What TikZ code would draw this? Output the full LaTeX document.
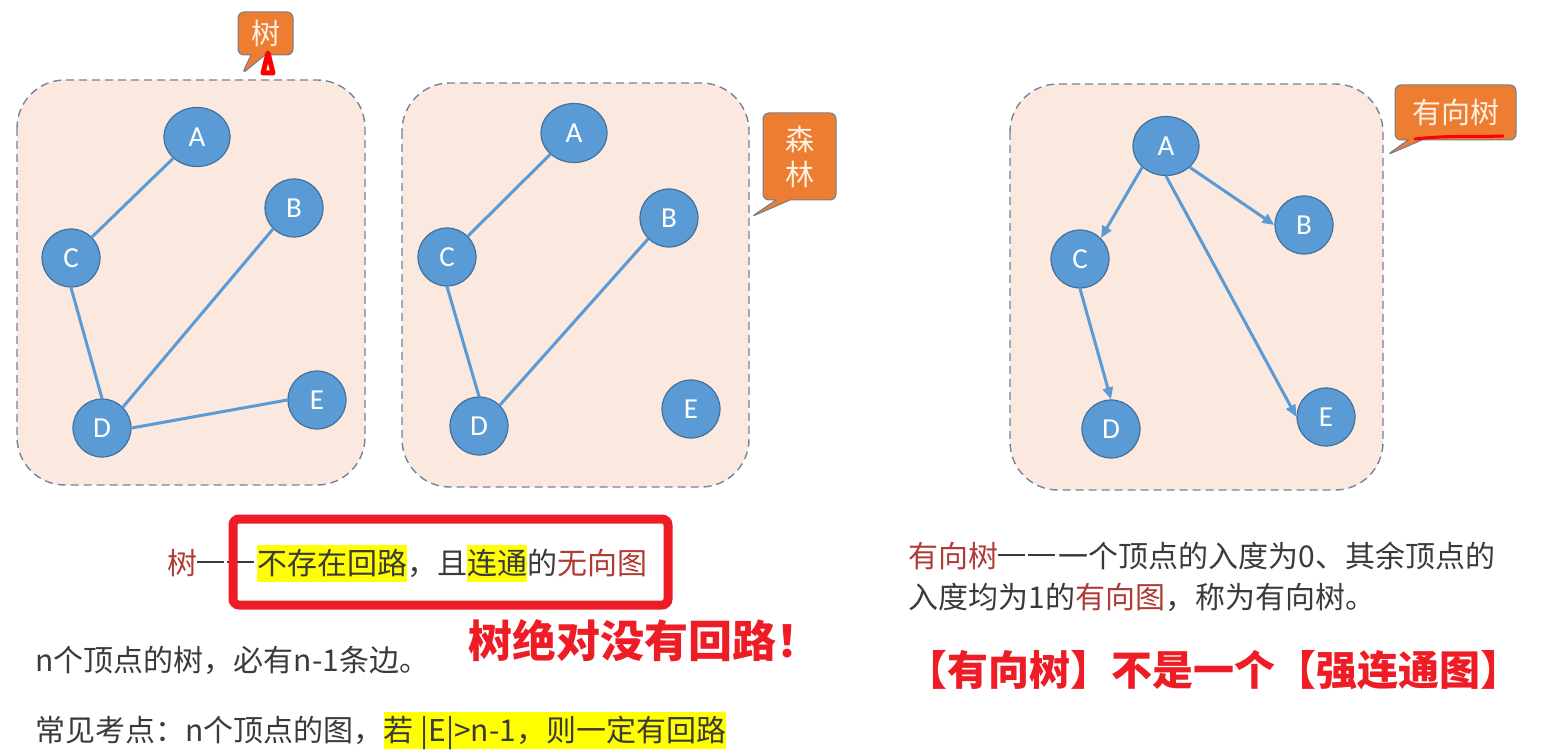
\documentclass[tikz,border=0pt]{standalone}
\usepackage{fontspec}
\usetikzlibrary{arrows.meta,shapes.geometric,shapes.callouts}
\newfontfamily\cjk{Noto Sans CJK SC}
\newfontfamily\letters{Carlito}
\definecolor{panelfill}{HTML}{FBE9E0}
\definecolor{paneledge}{HTML}{7483A0}
\definecolor{vertexfill}{HTML}{5B9BD5}
\definecolor{vertexedge}{HTML}{41719C}
\definecolor{linkline}{HTML}{5B9BD5}
\definecolor{bubblefill}{HTML}{ED7D31}
\definecolor{bubbleedge}{HTML}{6F7E91}
\definecolor{bubbleink}{HTML}{FFF1E4}
\definecolor{deepred}{HTML}{B03A34}
\definecolor{alarm}{HTML}{EE1D25}
\definecolor{marker}{HTML}{FFFF00}
\definecolor{ink}{HTML}{3A3A3A}
\newcommand\hl[1]{{\setlength\fboxsep{0pt}\colorbox{marker}{\rule[-4pt]{0pt}{18.5pt}#1}}}
\newcommand\longdash{\rule[.36em]{.9em}{.07em}\hspace{.1em}\rule[.36em]{.9em}{.07em}\hspace{.1em}}

\begin{document}
\begin{tikzpicture}[
  x=.5pt,y=-.5pt,
  panel/.style={draw=paneledge,fill=panelfill,line width=.7pt,
    dash pattern=on 4pt off 2.5pt,rounded corners=24pt},
  vertex/.style={circle,draw=vertexedge,line width=.6pt,fill=vertexfill,text=white,
    minimum size=29pt,inner sep=0pt,font=\letters\fontsize{14.5}{14.5}\selectfont},
  oval/.style={ellipse,minimum width=33pt,minimum height=29.5pt},
  link/.style={draw=linkline,line width=1.5pt},
  arrowlink/.style={link,-{Triangle[length=6pt,width=5pt]}},
  bubble/.style={rectangle callout,draw=bubbleedge,line width=.5pt,fill=bubblefill,
    rounded corners=3pt,callout pointer width=7pt,inner sep=0pt,align=center,
    text=bubbleink,font=\cjk\fontsize{14.5}{17.5}\selectfont},
  prose/.style={inner sep=0pt,text=ink,font=\cjk\fontsize{15}{20.5}\selectfont},
  shout/.style={inner sep=0pt,text=alarm,font=\cjk\bfseries\fontsize{22}{24}\selectfont},
  scribble/.style={draw=red,line width=1.5pt,line cap=round,line join=round}
]
\path[use as bounding box] (0,0) rectangle (1543,754);

% Three panels: tree, forest, directed tree.
\draw[panel] (17,80) rectangle (365,485);
\draw[panel] (402,83) rectangle (749,487);
\draw[panel] (1010,84) rectangle (1383,490);

\node[vertex,oval] (ta) at (197,137) {A};
\node[vertex] (tb) at (294,208) {B};
\node[vertex] (tc) at (71,258) {C};
\node[vertex] (td) at (102,428) {D};
\node[vertex] (te) at (317,400) {E};
\draw[link] (ta.south west) -- (tc.north east);
\draw[link] (tc.south) -- (td.north);
\draw[link] (td.north east) -- (tb.south west);
\draw[link] (td.east) -- (te.west);

\node[vertex,oval] (fa) at (574,133) {A};
\node[vertex] (fb) at (669,218) {B};
\node[vertex] (fc) at (447,257) {C};
\node[vertex] (fd) at (479,426) {D};
\node[vertex] (fe) at (691,409) {E};
\draw[link] (fa.south west) -- (fc.north east);
\draw[link] (fc.south) -- (fd.north);
\draw[link] (fd.north east) -- (fb.south west);

\node[vertex,oval] (da) at (1166,146) {A};
\node[vertex] (db) at (1304,225) {B};
\node[vertex] (dc) at (1080,259) {C};
\node[vertex] (dd) at (1111,429) {D};
\node[vertex] (de) at (1326,417) {E};
\draw[arrowlink] (da.south west) -- (dc.north east);
\draw[arrowlink] (da.south east) -- (db.west);
\draw[arrowlink] (da.south) -- (de.west);
\draw[arrowlink] (dc.south) -- (dd.north);

% Orange labels pointing at the panels.
\coordinate (treetip) at (242,74);
\coordinate (foresttip) at (751,217);
\coordinate (dtreetip) at (1387,155);
\node[bubble,minimum width=27.5pt,minimum height=21.5pt,
  callout absolute pointer={(treetip)}] (treetag) at (265.5,33.5) {树};
\node[bubble,minimum width=36.5pt,minimum height=43.5pt,
  callout absolute pointer={(foresttip)}] (foresttag) at (799.5,156.5) {森\\林};
\node[bubble,minimum width=60.5pt,minimum height=27.5pt,
  callout absolute pointer={(dtreetip)}] (dtreetag) at (1455.5,112.5) {有向树};
\draw[scribble,line width=2.5pt] (268,53) -- (263,73) -- (273,73) -- cycle;
\draw[scribble] (1415,139) .. controls (1450,135) and (1480,137) .. (1503,136);

% Definitions below the panels.
\node[prose,anchor=base west] (treedef) at (167,574)
  {\textcolor{deepred}{树}\longdash\hl{不存在回路}，且\hl{连通}的\textcolor{deepred}{无向图}};
\node[draw=alarm,line width=4.5pt,rounded corners=3pt,
  minimum width=217.5pt,minimum height=43pt] (keybox) at (450.5,562) {};
\node[shout,anchor=base west] (nocycle) at (468,657) {树绝对没有回路！};
\node[prose,anchor=base west] (edgecount) at (35,671) {n个顶点的树，必有n-1条边。};
\node[prose,anchor=base west] (examhint) at (35,741)
  {常见考点：n个顶点的图，\hl{若 |E|>n-1，则一定有回路}};

\node[prose,anchor=west,align=left] (dtreedef) at (908,576.5)
  {\textcolor{deepred}{有向树}\longdash 一个顶点的入度为0、其余顶点的\\
   入度均为1的\textcolor{deepred}{有向图}，称为有向树。};
\node[shout,font=\cjk\bfseries\fontsize{20.5}{24}\selectfont,anchor=base west]
  (notstrong) at (906,685) {【有向树】不是一个【强连通图】};
\end{tikzpicture}
\end{document}
